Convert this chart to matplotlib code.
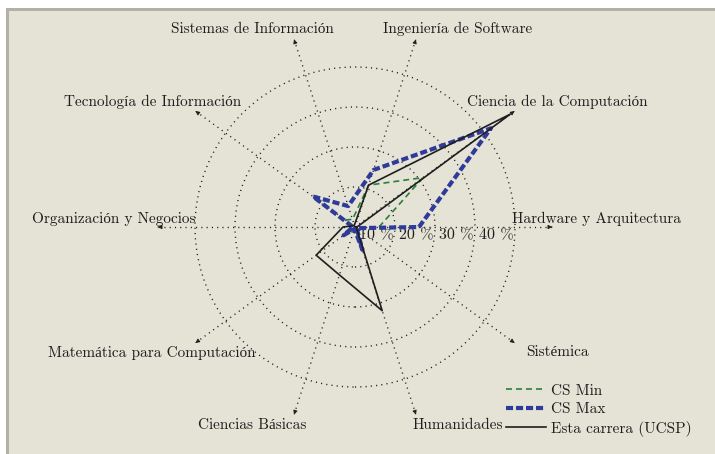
import numpy as np
import matplotlib
matplotlib.use("Agg")
import matplotlib.pyplot as plt
from matplotlib.patches import Rectangle, Circle

plt.rcParams["font.family"] = ["cmr10", "Liberation Serif"]
plt.rcParams["axes.formatter.use_mathtext"] = True

# axes of the radar, counter-clockwise starting at 0 degrees
CATEGORIES = ["Hardware y Arquitectura", "Ciencia de la Computación",
              "Ingeniería de Software", "Sistemas de Información",
              "Tecnología de Información", "Organización y Negocios",
              "Matemática para Computación", "Ciencias Básicas",
              "Humanidades", "Sistémica"]
CS_MIN = [6, 21, 11, 2, 3, 1, 3, 1, 1, 1]
CS_MAX = [16, 42, 15, 5.5, 13, 0.5, 3.5, 0.5, 6, 0.5]
UCSP   = [0.5, 48, 11, 0.5, 0.5, 3, 12, 12.6, 22, 0.5]
RINGS  = [10, 20, 30, 40]
RING_LABELS = ["10 %", "20 %", "30 %", "40 %"]
SERIES_NAMES = ["CS Min", "CS Max", "Esta carrera (UCSP)"]

BG     = "#e5e2d6"
FRAME  = "#b3b1a6"
INK    = "#1e1e1e"
GREEN  = "#2b7f3a"
BLUE   = "#2f3b9b"
AXLEN  = 50

angles = np.deg2rad(np.arange(len(CATEGORIES)) * 36.0)


def to_xy(vals):
    v = np.array(vals + vals[:1], dtype=float)
    a = np.concatenate([angles, angles[:1]])
    return v * np.cos(a), v * np.sin(a)


fig = plt.figure(figsize=(7.15, 4.54), dpi=100)
fig.patch.set_facecolor("white")
ax = fig.add_axes([0, 0, 1, 1])
ax.set_xlim(-88.75, 90)
ax.set_ylim(-56.75, 56.75)
ax.set_aspect("equal")
ax.axis("off")

# screenshot frame
ax.add_patch(Rectangle((-87.25, -60), 200, 114.75, facecolor=FRAME, edgecolor="none", zorder=0))
ax.add_patch(Rectangle((-86.5, -60), 200, 114.0, facecolor=BG, edgecolor="none", zorder=0))

# rings
for r in RINGS:
    ax.add_patch(Circle((0, 0), r, fill=False, edgecolor=INK, lw=1.0,
                        linestyle=(0, (0.8, 3.0)), zorder=1))

# axes with arrows and labels
for ang, name in zip(angles, CATEGORIES):
    c, s = np.cos(ang), np.sin(ang)
    ax.plot([0, (AXLEN - 1) * c], [0, (AXLEN - 1) * s], color=INK, lw=1.0,
            linestyle=(0, (0.8, 3.0)), zorder=1)
    ax.annotate("", xy=(AXLEN * c, AXLEN * s), xytext=((AXLEN - 1.5) * c, (AXLEN - 1.5) * s),
                arrowprops=dict(arrowstyle="-|>", color=INK, lw=0.6,
                                mutation_scale=6), zorder=2)
    dx = 10.25 if c > 1e-6 else -10.25
    dy = 2.0 if np.rad2deg(ang) <= 180.5 else -2.0
    ax.text(AXLEN * c + dx, AXLEN * s + dy, name, ha="center", va="center",
            fontsize=11, color=INK, zorder=3)

for r, lab in zip(RINGS, RING_LABELS):
    ax.text(r - 0.4, -0.3, lab, ha="right", va="top", fontsize=11.5, color=INK, zorder=3)

# series
x, y = to_xy(CS_MIN)
ax.plot(x, y, color=GREEN, lw=1.2, dashes=(3.6, 2.4), zorder=4, label=SERIES_NAMES[0])
x, y = to_xy(CS_MAX)
ax.plot(x, y, color=BLUE, lw=3.0, dashes=(1.7, 0.7), zorder=4, label=SERIES_NAMES[1])
x, y = to_xy(UCSP)
ax.plot(x, y, color=INK, lw=1.2, zorder=5, label=SERIES_NAMES[2])

ax.legend(loc="upper left", bbox_to_anchor=(506 / 715, 1 - 384 / 454),
          bbox_transform=fig.transFigure, frameon=False, fontsize=11,
          handlelength=2.6, handletextpad=0.35, borderpad=0, borderaxespad=0,
          labelspacing=0.3, labelcolor=INK)

fig.savefig("out.png", dpi=100, facecolor=fig.get_facecolor())
